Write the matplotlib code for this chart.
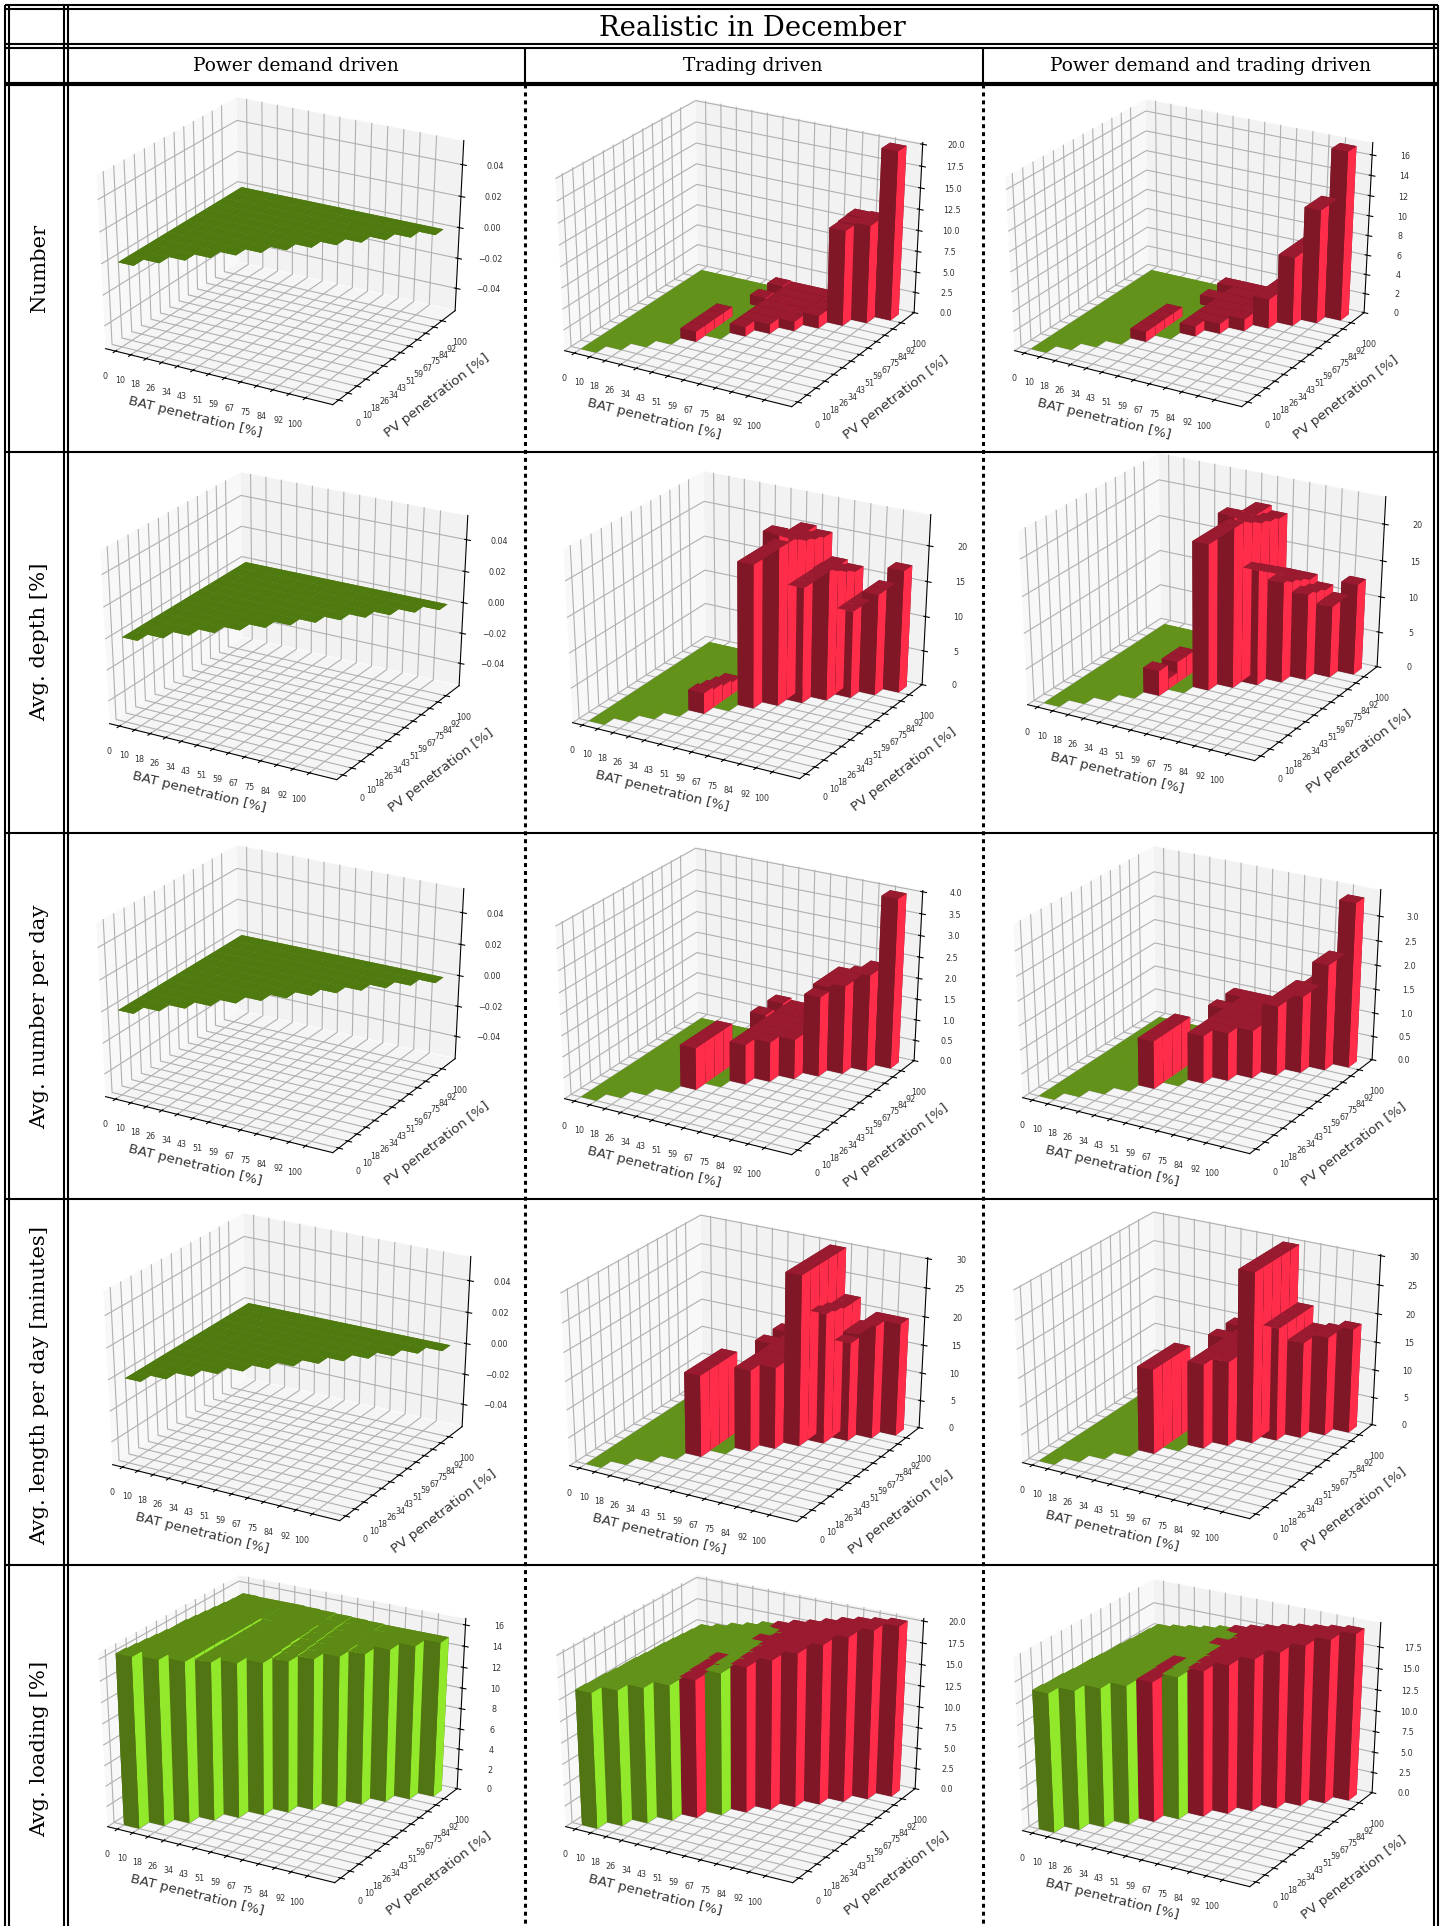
import matplotlib
matplotlib.use('Agg')
import numpy as np
import matplotlib.pyplot as plt
from mpl_toolkits.mplot3d import Axes3D

pen_labels = ['0', '10', '18', '26', '34', '43', '51', '59', '67', '75', '84', '92', '100']
row_names = ['Number', 'Avg. depth [%]', 'Avg. number per day',
             'Avg. length per day [minutes]', 'Avg. loading [%]']
col_names = ['Power demand driven', 'Trading driven', 'Power demand and trading driven']

# each panel: one list per BAT step, values for PV steps from that BAT step upwards
no_events = [[0]*13, [0]*12, [0]*11, [0]*10, [0]*9, [0]*8, [0]*7, [0]*6, [0]*5, [0]*4, [0]*3, [0]*2, [0]]

number_trading = [[0]*13, [0]*12, [0]*11, [0]*10,
    [1.2, 1.2, 1.2, 1.2, 0, 0, 0, 0, 0],
    [0, 0, 0, 0, 0, 1.2, 0, 1.2],
    [1.1, 1.1, 1.1, 1.1, 1.1, 1.1, 1.1],
    [1.1, 1.1, 1.1, 1.1, 1.1, 1.1],
    [1.1, 1.1, 1.1, 1.1, 1.1],
    [1.5, 1.5, 1.5, 1.5],
    [11.4, 11.5, 11.6],
    [11.7, 11.7],
    [20.0]]
number_both = [[0]*13, [0]*12, [0]*11, [0]*10,
    [1.0, 1.0, 1.0, 1.0, 0, 0, 0, 0, 0],
    [0, 0, 0, 0, 0, 1.0, 0, 1.0],
    [1.0, 1.0, 1.0, 1.0, 1.0, 1.0, 1.0],
    [1.0, 1.0, 1.0, 1.0, 1.0, 1.0],
    [1.2, 1.2, 1.2, 1.2, 1.2],
    [3.0, 3.0, 3.0, 3.0],
    [7.0, 7.0, 7.0],
    [11.5, 11.5],
    [17.0]]
depth_trading = [[0]*13, [0]*12, [0]*11, [0]*10,
    [3.0, 2.6, 2.2, 1.8, 0, 0, 0, 0, 0],
    [0, 0, 0, 0, 0, 14.0, 0, 14.0],
    [20.4, 20.4, 20.4, 20.4, 20.4, 20.4, 20.4],
    [24.2, 23.0, 21.9, 21.0, 20.4, 19.9],
    [16.5, 16.5, 16.5, 16.5, 16.5],
    [18.5, 17.7, 16.8, 16.0],
    [12.5, 12.5, 12.5],
    [14.5, 14.5],
    [17.5]]
depth_both = [[0]*13, [0]*12, [0]*11, [0]*10,
    [3.5, 1.5, 3.0, 3.0, 0, 0, 0, 0, 0],
    [0, 0, 0, 0, 0, 14.0, 0, 14.0],
    [20.2, 20.2, 20.2, 20.2, 20.2, 20.2, 20.2],
    [23.6, 22.4, 21.2, 20.4, 19.9, 19.5],
    [16.0, 15.0, 14.0, 13.0, 12.0],
    [14.0, 13.3, 12.7, 12.0],
    [12.0, 11.5, 11.0],
    [10.0, 10.0],
    [12.7]]
perday_trading = [[0]*13, [0]*12, [0]*11, [0]*10,
    [1.0, 1.0, 1.0, 1.0, 0, 0, 0, 0, 0],
    [0, 0, 0, 0, 0, 1.0, 0, 1.0],
    [0.95, 0.95, 0.95, 0.95, 0.95, 0.95, 0.95],
    [0.95, 0.95, 0.95, 0.95, 0.95, 0.95],
    [0.95, 0.95, 0.95, 0.95, 0.95],
    [1.9, 2.0, 2.0, 2.0],
    [2.1, 2.1, 2.1],
    [2.3, 2.3],
    [4.0]]
perday_both = [[0]*13, [0]*12, [0]*11, [0]*10,
    [1.0, 1.0, 1.0, 1.0, 0, 0, 0, 0, 0],
    [0, 0, 0, 0, 0, 1.0, 0, 1.0],
    [1.0, 1.0, 1.0, 1.0, 1.0, 1.0, 1.0],
    [1.0, 1.0, 1.0, 1.0, 1.0, 1.0],
    [1.0, 1.0, 1.0, 1.0, 1.0],
    [1.45, 1.45, 1.45, 1.45],
    [1.6, 1.6, 1.6],
    [2.2, 2.2],
    [3.4]]
length_trading = [[0]*13, [0]*12, [0]*11, [0]*10,
    [14.5, 14.5, 14.5, 14.5, 0, 0, 0, 0, 0],
    [0, 0, 0, 0, 0, 14.5, 0, 14.5],
    [14.5, 14.5, 14.5, 14.5, 14.5, 14.5, 14.5],
    [14.5, 14.5, 14.5, 14.5, 14.5, 14.5],
    [30.0, 30.0, 30.0, 30.0, 30.0],
    [23.0, 22.5, 22.0, 22.0],
    [17.5, 18.0, 18.0],
    [20.0, 20.0],
    [20.0]]
length_both = [[0]*13, [0]*12, [0]*11, [0]*10,
    [15.0, 15.0, 15.0, 15.0, 0, 0, 0, 0, 0],
    [0, 0, 0, 0, 0, 15.0, 0, 15.0],
    [15.0, 15.0, 15.0, 15.0, 15.0, 15.0, 15.0],
    [15.0, 15.0, 15.0, 15.0, 15.0, 15.0],
    [30.0, 30.0, 30.0, 30.0, 30.0],
    [20.0, 20.0, 20.0, 20.0],
    [17.0, 17.0, 17.0],
    [17.5, 17.5],
    [18.5]]
loading_demand = [
    [16.4, 16.3, 16.2, 16.1, 16.0, 15.9, 15.9, 15.8, 15.7, 15.6, 15.5, 15.4, 15.35],
    [15.9, 15.8, 15.8, 15.7, 15.7, 15.6, 15.6, 15.5, 15.5, 15.4, 15.4, 15.3],
    [15.5, 15.5, 15.5, 15.5, 15.4, 15.4, 15.4, 15.4, 15.3, 15.3, 15.3],
    [15.2, 15.2, 15.2, 15.2, 15.2, 15.2, 15.2, 15.3, 15.3, 15.3],
    [14.9, 15.0, 15.0, 15.0, 15.1, 15.1, 15.2, 15.2, 15.25],
    [14.7, 14.8, 14.9, 15.0, 15.0, 15.1, 15.1, 15.2],
    [14.6, 14.7, 14.8, 14.9, 15.0, 15.1, 15.15],
    [14.6, 14.7, 14.8, 14.9, 15.0, 15.1],
    [14.6, 14.7, 14.8, 14.9, 15.05],
    [14.6, 14.8, 14.9, 15.0],
    [14.8, 14.9, 15.0],
    [14.9, 15.0],
    [15.0]]
loading_trading = [
    [16.0, 15.9, 15.9, 15.8, 15.7, 15.7, 15.6, 15.5, 15.5, 15.4, 15.3, 15.2, 15.1],
    [16.0, 15.9, 15.9, 15.8, 15.8, 15.8, 15.7, 15.7, 15.6, 15.6, 15.5, 15.5],
    [16.0, 16.0, 16.0, 16.0, 16.0, 16.0, 16.0, 16.0, 16.0, 16.0, 16.0],
    [16.0, 16.0, 16.1, 16.1, 16.2, 16.2, 16.3, 16.3, 16.4, 16.4],
    [16.3, 16.4, 16.4, 16.5, 16.6, 16.7, 16.8, 16.8, 16.9],
    [16.8, 16.9, 16.9, 17.0, 17.1, 17.1, 17.2, 17.3],
    [17.2, 17.3, 17.4, 17.5, 17.6, 17.7, 17.8],
    [17.7, 17.8, 17.9, 18.0, 18.1, 18.2],
    [18.2, 18.3, 18.4, 18.6, 18.7],
    [18.9, 19.0, 19.1, 19.2],
    [19.5, 19.5, 19.6],
    [20.0, 19.9],
    [20.2]]
loading_both = [
    [16.4, 16.3, 16.3, 16.2, 16.1, 16.1, 16.0, 15.9, 15.9, 15.8, 15.7, 15.7, 15.6],
    [16.4, 16.3, 16.3, 16.3, 16.2, 16.2, 16.1, 16.1, 16.0, 16.0, 15.9, 15.9],
    [16.4, 16.4, 16.4, 16.4, 16.3, 16.3, 16.3, 16.3, 16.2, 16.2, 16.2],
    [16.4, 16.4, 16.4, 16.4, 16.4, 16.4, 16.5, 16.5, 16.5, 16.5],
    [16.5, 16.5, 16.6, 16.6, 16.7, 16.7, 16.8, 16.8, 16.9],
    [16.8, 16.9, 16.9, 17.0, 17.1, 17.1, 17.2, 17.3],
    [17.2, 17.3, 17.4, 17.4, 17.5, 17.6, 17.7],
    [17.6, 17.7, 17.8, 17.9, 18.0, 18.1],
    [18.0, 18.1, 18.2, 18.4, 18.5],
    [18.5, 18.6, 18.8, 18.9],
    [19.0, 19.1, 19.2],
    [19.4, 19.5],
    [19.8]]

panels = [[no_events, number_trading, number_both],
          [no_events, depth_trading, depth_both],
          [no_events, perday_trading, perday_both],
          [no_events, length_trading, length_both],
          [loading_demand, loading_trading, loading_both]]
# which cells are red in the loading row comes from the number row
masks = [[None, None, None], [None, None, None], [None, None, None], [None, None, None],
         [no_events, number_trading, number_both]]

ticks_empty = [-0.04, -0.02, 0.0, 0.02, 0.04]
z_ticks = [[ticks_empty, [0, 2.5, 5, 7.5, 10, 12.5, 15, 17.5, 20], [0, 2, 4, 6, 8, 10, 12, 14, 16]],
           [ticks_empty, [0, 5, 10, 15, 20], [0, 5, 10, 15, 20]],
           [ticks_empty, [0, 0.5, 1, 1.5, 2, 2.5, 3, 3.5, 4], [0, 0.5, 1, 1.5, 2, 2.5, 3]],
           [ticks_empty, [0, 5, 10, 15, 20, 25, 30], [0, 5, 10, 15, 20, 25, 30]],
           [[0, 2, 4, 6, 8, 10, 12, 14, 16], [0, 2.5, 5, 7.5, 10, 12.5, 15, 17.5, 20], [0, 2.5, 5, 7.5, 10, 12.5, 15, 17.5]]]
z_fmt = [['%.2f', '%.1f', '%d'], ['%.2f', '%d', '%d'], ['%.2f', '%.1f', '%.1f'], ['%.2f', '%d', '%d'], ['%d', '%.1f', '%.1f']]
z_tops = [[0.055, 20.2, 17.2], [0.055, 24.3, 23.7], [0.055, 4.03, 3.53], [0.055, 30.2, 30.2], [16.6, 20.3, 20.3]]
# front floor corner of each cube, in image pixels
corners = [[(333, 405), (792, 407), (1242, 407)],
           [(337, 780), (800, 779), (1255, 761)],
           [(333, 1153), (792, 1155), (1250, 1154)],
           [(340, 1521), (797, 1522), (1250, 1519)],
           [(335, 1883), (793, 1883), (1250, 1887)]]
line_rows = (2, 5, 6, 8)  # BAT steps with a thin bright step on the loading surface

green_top, green_front, green_side = '#62921a', '#507512', '#92e82a'
green_flat = '#4f7a10'
green_load = '#5c8a14'
red_top, red_front, red_side = '#9a1a30', '#7f1726', '#ff2d4a'

W, H = 1446, 1926
fig = plt.figure(figsize=(W/100, H/100), dpi=100)
fig.patch.set_facecolor('white')


def draw_panel(r, c):
    vals = panels[r][c]
    mask = masks[r][c] if masks[r][c] is not None else vals
    fx, fy = corners[r][c]
    aw, ah = 485, 367
    left, bottom_px = fx-299, fy+29
    ax = fig.add_axes([left/W, 1-bottom_px/H, aw/W, ah/H], projection='3d')
    ax.apply_aspect = lambda position=None: None  # keep the stretched 4:3 box
    ax.set_facecolor('none')
    ax.set_box_aspect((1, 1, 1), zoom=0.909)
    ax.view_init(elev=30, azim=-60)

    xs, ys, hs, cols = [], [], [], []
    empty = max(max(row) for row in vals) == 0
    for i, row in enumerate(vals):
        for k, v in enumerate(row):
            j = i+k
            xs.append(i)
            ys.append(j)
            hs.append(v)
            if mask[i][k] > 0:
                top, front, side = red_top, red_front, red_side
            elif empty:
                top, front, side = green_flat, green_front, green_side
            else:
                top, front, side = green_top, green_front, green_side
            if r == 4 and c == 0:
                top = green_load
            if r == 4 and k > 0:
                # inner steps of the loading surface stay flat looking
                front = top
                if not (c == 0 and i in line_rows):
                    side = top
            cols += [top, top, front, front, front, side]
    ax.bar3d(xs, ys, np.zeros(len(xs)), 1, 1, hs, color=cols, shade=False, zsort='average')

    ax.set_xlim(-0.65, 13.65)
    ax.set_ylim(-0.65, 13.65)
    zt = z_ticks[r][c]
    ztop = z_tops[r][c]
    ax.set_zlim(-ztop if empty else 0, ztop)
    ax.set_xticks(np.arange(13))
    ax.set_yticks(np.arange(13))
    ax.set_xticklabels(pen_labels)
    ax.set_yticklabels(pen_labels)
    ax.set_zticks(zt)
    ax.set_zticklabels([(z_fmt[r][c] % t).replace('-', '\u2212') for t in zt])
    ax.tick_params(labelsize=5.8, labelcolor='#333333')
    ax.tick_params(axis='x', pad=5)
    ax.tick_params(axis='y', pad=5)
    ax.tick_params(axis='z', pad=7)
    ax.set_xlabel('BAT penetration [%]', fontsize=9.7, labelpad=4, color='#333333')
    ax.set_ylabel('PV penetration [%]', fontsize=9.7, labelpad=8, color='#333333')
    for axis in (ax.xaxis, ax.yaxis, ax.zaxis):
        axis.pane.set_edgecolor((1, 1, 1, 0))


for r in range(5):
    for c in range(3):
        draw_panel(r, c)

# table on top, drawn in image pixels
tb = fig.add_axes([0, 0, 1, 1], zorder=20)
tb.set_xlim(0, W)
tb.set_ylim(H, 0)
tb.axis('off')
tb.patch.set_alpha(0)


def hline(y, x0=5, x1=1438, lw=1.5):
    tb.plot([x0, x1], [y, y], color='black', lw=lw, solid_capstyle='butt')


def vline(x, y0=5, y1=H, lw=1.5, **kw):
    tb.plot([x, x], [y0, y1], color='black', lw=lw, solid_capstyle='butt', **kw)


for x in (5, 9, 64, 68, 1434, 1438):
    vline(x)
hline(5)
hline(9)
hline(44)
hline(48)
hline(84, lw=3)
for y in (452, 833, 1199, 1565):
    hline(y)
for x in (525, 983):
    vline(x, 48, 84)
    tb.plot([x, x], [84, H], color='black', lw=2.2, dashes=(1.3, 1.3))

serif = 'DejaVu Serif'
tb.text(752, 28, 'Realistic in December', fontsize=19.8, family=serif, ha='center', va='center')
for x, name in zip((296, 753, 1210), col_names):
    tb.text(x, 66, name, fontsize=13.4, family=serif, ha='center', va='center')
for y, name in zip((268, 642, 1017, 1385, 1749), row_names):
    tb.text(40, y, name, fontsize=15.2, family=serif, rotation=90, ha='center', va='center')

fig.savefig('out.png', dpi=100)
